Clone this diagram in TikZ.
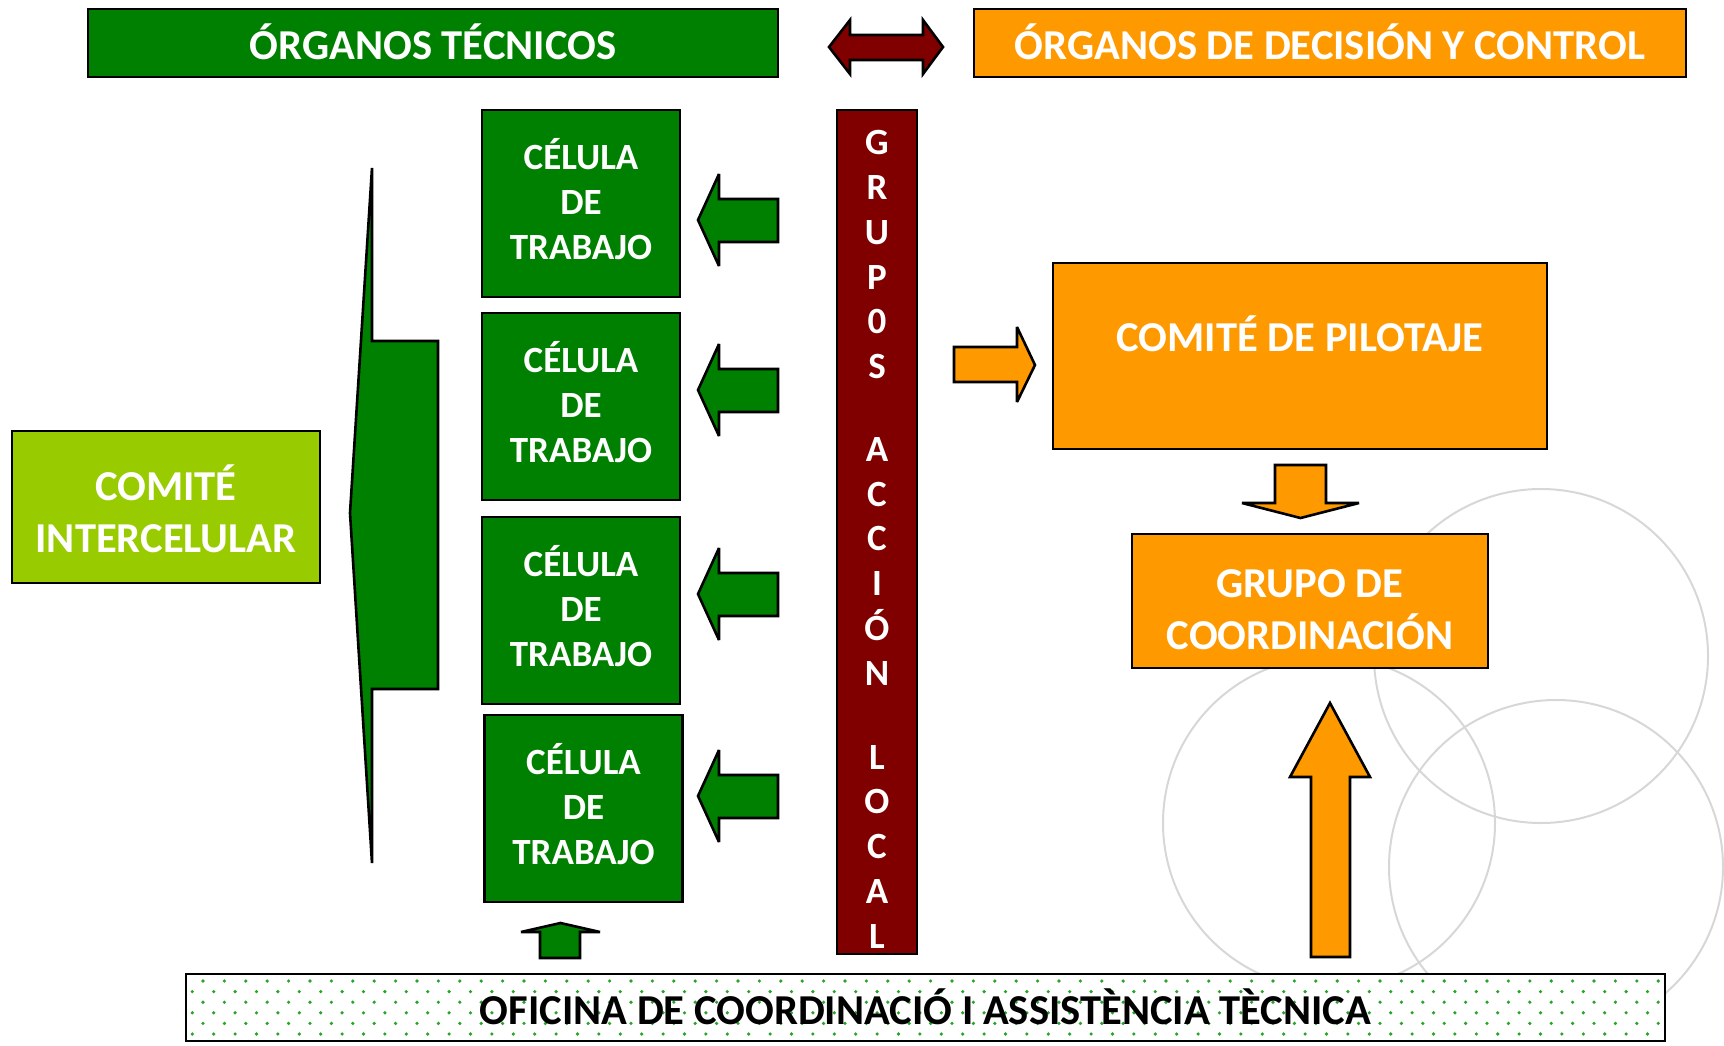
\documentclass[tikz,border=0pt]{standalone}
\usepackage{fontspec}
\setmainfont{Carlito}
\usepackage{tikz}
\usetikzlibrary{positioning}

\definecolor{celgreen}{RGB}{0,128,0}
\definecolor{orgorange}{RGB}{255,153,0}
\definecolor{galmaroon}{RGB}{128,0,0}
\definecolor{interlime}{RGB}{153,204,0}
\definecolor{dotgreen}{RGB}{40,165,40}
\definecolor{ringgray}{RGB}{215,215,215}

\begin{document}
\begin{tikzpicture}[
	x=0.5pt, y=-0.5pt,
	every node/.style={inner sep=0pt, align=center, text=white, font=\bfseries\fontsize{21.3}{25.8}\selectfont},
	box/.style args={#1 by #2}{draw, line width=1.3pt, minimum width=#1*0.5pt, minimum height=#2*0.5pt},
	oneline/.style={text height=16.8pt, text depth=0pt},
	cell/.style={box=198 by 187, fill=celgreen, font=\bfseries\fontsize{18.5}{22.5}\selectfont,
		text height=55.8pt, text depth=0pt},
	letter/.style={font=\bfseries\fontsize{18.5}{22.5}\selectfont, text height=11.9pt, text depth=0pt},
	greenshape/.style={draw, line width=1.3pt, fill=celgreen, line join=miter},
	orangeshape/.style={draw, line width=1.3pt, fill=orgorange, line join=miter, miter limit=3},
	ring/.style={draw=ringgray, line width=1pt},
	]
	
	\useasboundingbox (0,0) rectangle (1724,1045);
	
	% Background rings
	\draw[ring] (1541,656) circle[radius=83.5pt];
	\draw[ring] (1329,823) circle[radius=83pt];
	\draw[ring] (1556,867) circle[radius=83.5pt];
	
	% Header bars
	\node (tecnicos) [box=690 by 68, fill=celgreen, oneline] at (433,43) {ÓRGANOS TÉCNICOS};
	\node (decision) [box=712 by 68, fill=orgorange, oneline] at (1330,43) {ÓRGANOS DE DECISIÓN Y CONTROL};
	\draw[draw, line width=1.3pt, fill=galmaroon] (829,47) -- (850,20) -- (850,35) -- (923,35) -- (923,20)
		-- (943,47) -- (923,74) -- (923,60) -- (850,60) -- (850,74) -- cycle;
	
	% Work cells
	\node (cel-1) [cell] at (581,203.5) {CÉLULA\\DE\\TRABAJO};
	\node (cel-2) [cell] at (581,406.5) {CÉLULA\\DE\\TRABAJO};
	\node (cel-3) [cell] at (581,610.5) {CÉLULA\\DE\\TRABAJO};
	\node (cel-4) [cell] at (583.5,808.5) {CÉLULA\\DE\\TRABAJO};
	
	% Arrows from the local action group to the cells
	\foreach \c in {220,390,594,796}
		\draw[greenshape, miter limit=4] (698,\c) -- (719,{\c-46}) -- (719,{\c-21}) -- (778,{\c-21})
			-- (778,{\c+22}) -- (719,{\c+22}) -- (719,{\c+46}) -- cycle;
	
	% Brace towards the inter-cell committee
	\draw[greenshape] (372,168) -- (372,341) -- (438,341) -- (438,689) -- (372,689)
		-- (372,863) -- (350,513) -- cycle;
	\node (inter) [box=308 by 152, fill=interlime, text height=45.4pt, text depth=0pt] at (166,507) {COMITÉ\\INTERCELULAR};
	
	% Local action group
	\node (gal) [box=80 by 844, fill=galmaroon] at (877,532) {};
	\foreach \ch/\cy in {G/143, R/188, U/233, P/278, 0/322, S/367,
		A/450, C/495, C/539, I/584, Ó/629, N/674,
		L/758, O/802, C/847, A/892, L/937}
		\node (gal-\cy) [letter] at (877,\cy) {\ch};
	
	% Decision side
	\node (pilot) [box=494 by 186, fill=orgorange, text height=13.5pt, text depth=18.5pt] at (1300,356) {COMITÉ DE PILOTAJE};
	\node (coord) [box=356 by 134, fill=orgorange, text height=48.1pt, text depth=0pt] at (1310,601) {GRUPO DE\\COORDINACIÓN};
	\draw[orangeshape] (954,347) -- (1017,347) -- (1017,327) -- (1035,365) -- (1017,402)
		-- (1017,382) -- (954,382) -- cycle;
	\draw[orangeshape] (1275,465) -- (1326,465) -- (1326,503) -- (1359,503) -- (1300.5,518)
		-- (1242,503) -- (1275,503) -- cycle;
	\draw[orangeshape] (1330,703) -- (1370,777) -- (1350,777) -- (1350,957) -- (1311,957)
		-- (1311,777) -- (1290,777) -- cycle;
	
	% Technical office bar
	\draw[greenshape, miter limit=3] (560.5,923) -- (600,932) -- (580,932) -- (580,958) -- (540,958)
		-- (540,932) -- (521,932) -- cycle;
	\node (oficina) [box=1479 by 67, fill=white] at (925.5,1007.5) {};
	\begin{scope}
		\clip (oficina.south west) rectangle (oficina.north east);
		\foreach \r in {0,...,5}
			\foreach \k in {0,...,69}
				\fill[dotgreen] ({203 - 10.7*mod(\r,2) + 21.4*\k}, {981 + 10.6*\r}) circle[radius=0.9pt];
	\end{scope}
	\node (oficina-text) [oneline, text=black] at (oficina) {OFICINA DE COORDINACIÓ I ASSISTÈNCIA TÈCNICA};
	
\end{tikzpicture}
\end{document}
